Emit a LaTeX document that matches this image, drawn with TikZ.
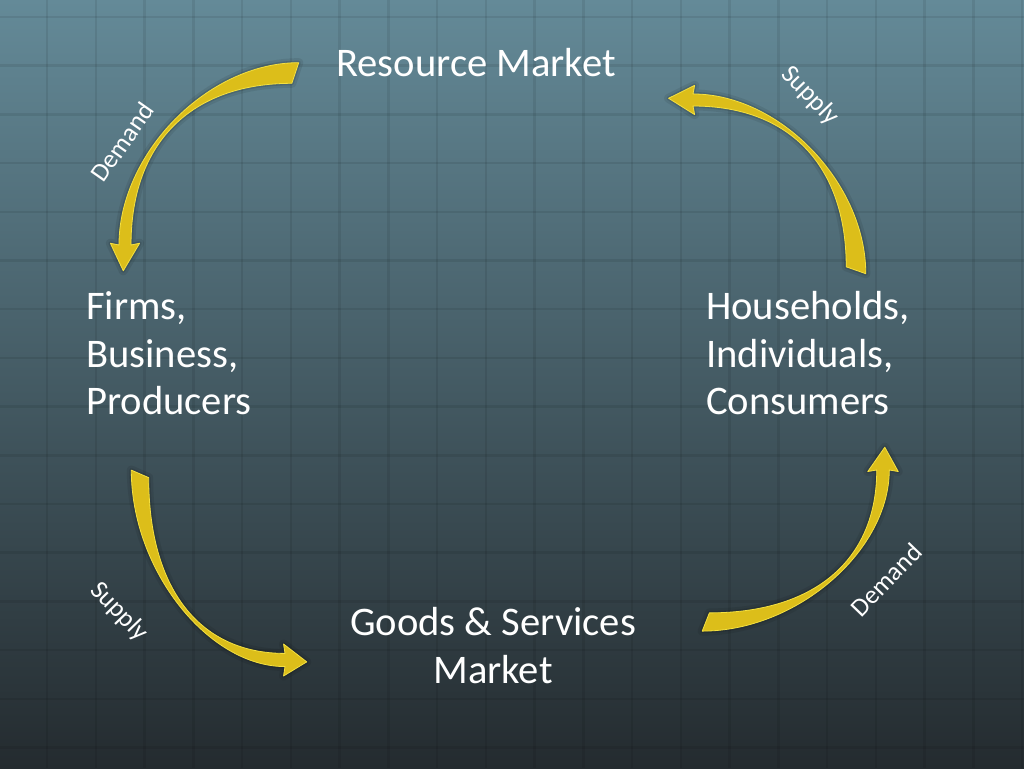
\documentclass[tikz,border=0pt]{standalone}
\usepackage{fontspec}
\setmainfont{Carlito}
\usepackage{tikz}
\definecolor{slatetop}{RGB}{100,138,152}
\definecolor{slatemid}{RGB}{68,94,104}
\definecolor{slatebot}{RGB}{36,43,47}
\definecolor{flowyellow}{RGB}{220,190,26}
\definecolor{flowedge}{RGB}{244,224,64}
\def\flowarrow{(0.01,1.06) .. controls (-0.52,1.06) and (-1.035,0.53) .. (-1.035,0) -- (-1.085,0.01) -- (-1.01,-0.15) -- (-0.915,0.01) -- (-0.965,0) .. controls (-0.965,0.60) and (-0.61,0.94) .. (-0.03,0.94) -- cycle}
\tikzset{
  market/.style={text=white,font=\fontsize{40.6}{47.5}\selectfont,inner sep=0pt},
  flowlabel/.style={text=white,font=\fontsize{26}{30}\selectfont,inner sep=0pt},
  gridline/.style={draw=black,opacity=0.08,line width=2.5pt},
  flowshadow/.style={draw=black,line join=round},
  flowfill/.style={fill=flowyellow,draw=flowedge,line width=0.8pt,line join=round}
}
\newcommand\drawflow{%
  \draw[flowshadow,opacity=0.08,line width=9pt] \flowarrow;
  \draw[flowshadow,opacity=0.12,line width=4pt] \flowarrow;
  \filldraw[flowfill] \flowarrow;}
\begin{document}
\begin{tikzpicture}[x=1pt,y=1pt]
    \useasboundingbox (0,0) rectangle (1024,768);
    \shade[top color=slatetop,middle color=slatemid,bottom color=slatebot] (0,0) rectangle (1024,768);
    \foreach \gx in {0,...,20}
      \draw[gridline] ({47+48.76*\gx},0) -- ({47+48.76*\gx},768);
    \foreach \gy in {0,...,15}
      \draw[gridline] (0,{751-48.7*\gy}) -- (1024,{751-48.7*\gy});
    \node[market,anchor=base] (resource) at (476,691) {Resource Market};
    \node[market,anchor=base west,align=left] (firms) at (86,353) {Firms,\\Business,\\Producers};
    \node[market,anchor=base west,align=left] (households) at (706,353) {Households,\\Individuals,\\Consumers};
    \node[market,anchor=base,align=center] (goods) at (493,85) {Goods \& Services\\Market};
    \coordinate (resdemand) at (297,523);
    \coordinate (ressupply) at (693,496);
    \coordinate (goodssupply) at (285,296);
    \coordinate (goodsdemand) at (704,298);
      \begin{scope}[shift={(resdemand)},xscale=172,yscale=172]
    \drawflow
      \end{scope}
      \begin{scope}[shift={(ressupply)},rotate=270,xscale=172,yscale=163]
    \drawflow
      \end{scope}
      \begin{scope}[shift={(goodssupply)},rotate=90,xscale=188,yscale=145]
    \drawflow
      \end{scope}
      \begin{scope}[shift={(goodsdemand)},rotate=180,xscale=179,yscale=152]
    \drawflow
      \end{scope}
    \node[flowlabel,rotate=55] (demandres) at (122,626) {Demand};
    \node[flowlabel,rotate=-46] (supplyres) at (810,672) {Supply};
    \node[flowlabel,rotate=-46] (supplygoods) at (119,156) {Supply};
    \node[flowlabel,rotate=46] (demandgoods) at (886,188) {Demand};
\end{tikzpicture}
\end{document}
